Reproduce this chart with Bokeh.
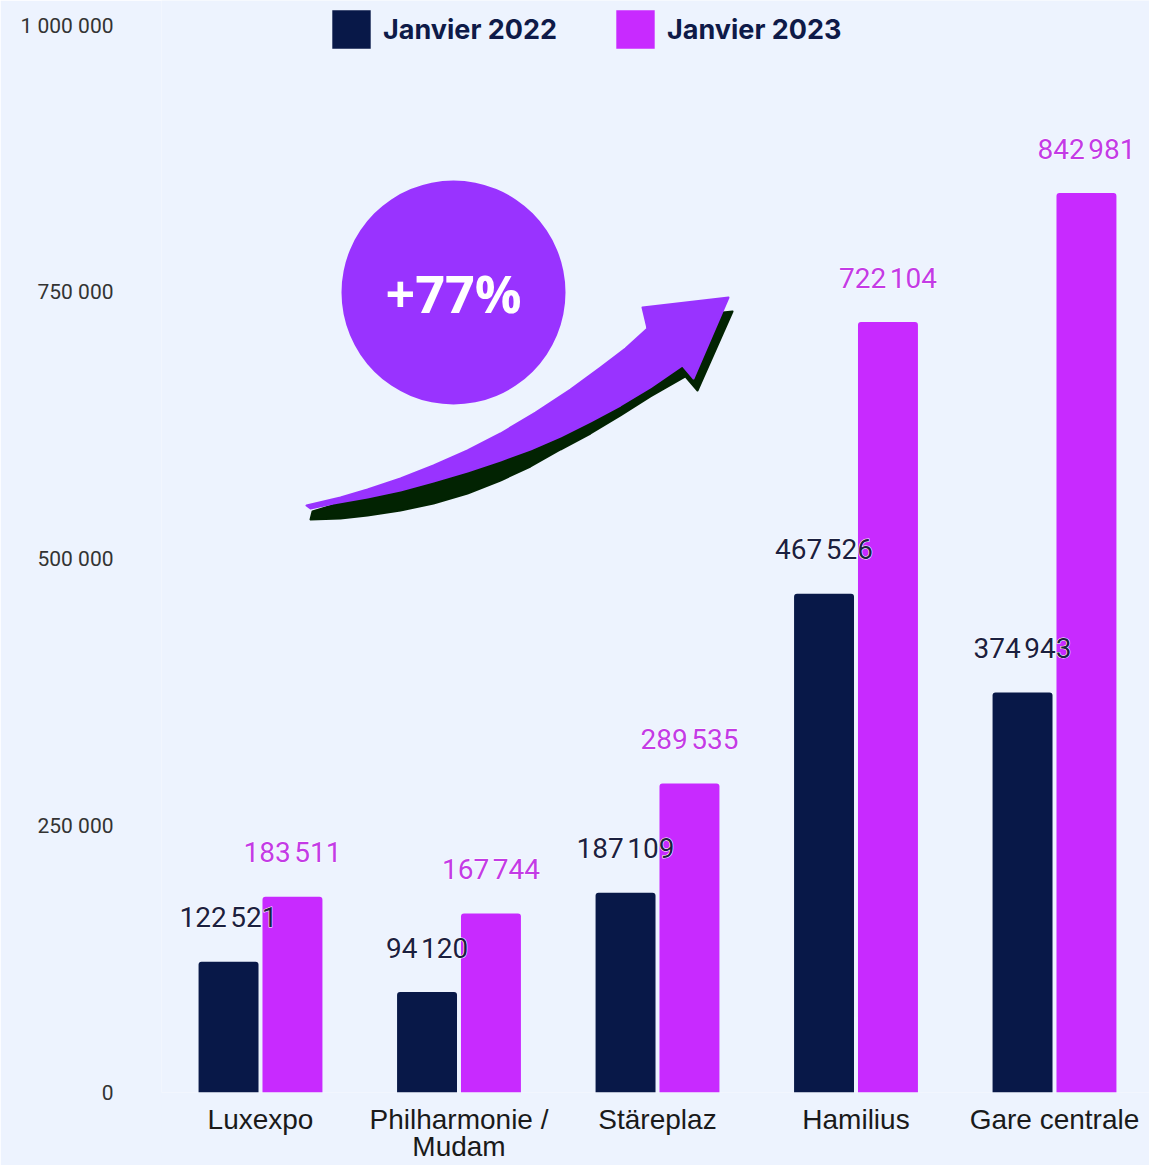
from bokeh.plotting import figure
from bokeh.models import (ColumnDataSource, Range1d, FixedTicker, Legend, LegendItem)
from bokeh.core.properties import value
from bokeh.embed import file_html
from bokeh.resources import INLINE

# ---- data ----
stations = ["Luxexpo", "Philharmonie /\nMudam", "Stäreplaz", "Hamilius", "Gare centrale"]
jan_2022 = [122521, 94120, 187109, 467526, 374943]
jan_2023 = [183511, 167744, 289535, 722104, 842981]
y_ticks = [0, 250000, 500000, 750000, 1000000]
y_tick_labels = ["0", "250 000", "500 000", "750 000", "1 000 000"]
growth_label = "+77%"

BG = "#EDF3FE"
NAVY = "#081848"
MAGENTA = "#C82AFF"
PURPLE = "#9933FF"
SHADOW = "#022302"

W, H = 1149, 1165
FRAME_LEFT, FRAME_BOTTOM = 161, 1092
PX_PER_CAT = 198.5
X0 = 260.0
PX_PER_VAL = 0.001067

p = figure(width=W, height=H, output_backend="svg", toolbar_location=None,
           x_range=Range1d((FRAME_LEFT - X0) / PX_PER_CAT, (W - X0) / PX_PER_CAT),
           y_range=Range1d(0, FRAME_BOTTOM / PX_PER_VAL),
           min_border_left=FRAME_LEFT, min_border_right=0, min_border_top=0,
           min_border_bottom=H - FRAME_BOTTOM)
p.background_fill_color = BG
p.border_fill_color = BG
p.outline_line_color = None
p.xgrid.visible = False
p.ygrid.visible = False

# helper converting reference-pixel decoration positions into data space
def dx(px):
    return (px - X0) / PX_PER_CAT
def dy(py):
    return (FRAME_BOTTOM - py) / PX_PER_VAL

idx = list(range(len(stations)))
off = 0.161
bw = 0.302
src = ColumnDataSource(dict(
    x1=[i - off for i in idx], x2=[i + off for i in idx],
    v1=jan_2022, v2=jan_2023,
    t1=[f"{v:,}".replace(",", "\u202f") for v in jan_2022],
    t2=[f"{v:,}".replace(",", "\u202f") for v in jan_2023],
))

r1 = p.vbar(x="x1", top="v1", width=bw, source=src, fill_color=NAVY, line_color=None,
            border_radius=(3, 3, 0, 0))
r2 = p.vbar(x="x2", top="v2", width=bw, source=src, fill_color=MAGENTA, line_color=None,
            border_radius=(3, 3, 0, 0))

lbl = dict(source=src, text_align="center", text_baseline="middle", y_offset=-44,
           text_font=value("Roboto"), text_font_size="28px")
# white halo layer
p.text(x="x1", y="v1", text="t1", text_color="white", text_outline_color="white", **lbl)
p.text(x="x2", y="v2", text="t2", text_color="white", text_outline_color="white", **lbl)
p.text(x="x1", y="v1", text="t1", text_color="#1B2040", **lbl)
p.text(x="x2", y="v2", text="t2", text_color="#C33BE6", **lbl)

# ---- decoration: arrow with shadow, circle badge ----
arrow_px = [306, 340, 367, 400, 433, 467, 500, 535, 570, 600, 625, 647,
            642, 728, 693, 682,
            650, 620, 590, 560, 530, 500, 467, 433, 400, 367, 333, 310]
arrow_py = [505, 497, 489, 478, 465, 450, 433, 412, 389, 367, 348, 328,
            307, 297, 378, 365,
            387, 405, 421, 436, 449, 460, 471, 481, 490, 497, 503, 508]
shadow_px = [310, 340, 367, 400, 433, 467, 500, 530, 560, 590, 620, 650, 685,
             697, 732, 646, 648, 620, 570, 500, 433, 367, 312]
shadow_py = [519, 518, 515, 510, 503, 493, 480, 466, 449, 433, 415, 396, 376,
             390, 311, 320, 332, 362, 397, 442, 470, 494, 511]
p.patch([dx(x) for x in shadow_px], [dy(y) for y in shadow_py],
        fill_color=SHADOW, line_color=SHADOW, line_width=2, line_join="round")
p.patch([dx(x) for x in arrow_px], [dy(y) for y in arrow_py],
        fill_color=PURPLE, line_color=PURPLE, line_width=2, line_join="round")

p.scatter([dx(453)], [dy(292)], size=224, marker="circle", fill_color=PURPLE, line_color=None)
p.text([dx(453)], [dy(292)], text=[growth_label], text_align="center", text_baseline="middle",
       text_font=value("Open Sans"), text_font_style="bold", text_font_size="52px",
       text_color="white")

# ---- axes ----
p.xaxis.ticker = FixedTicker(ticks=idx)
p.xaxis.major_label_overrides = {i: s for i, s in zip(idx, stations)}
p.xaxis.axis_line_color = None
p.xaxis.major_tick_line_color = None
p.xaxis.minor_tick_line_color = None
p.xaxis.major_tick_out = 0
p.xaxis.major_tick_in = 0
p.xaxis.major_label_standoff = 11
p.xaxis.major_label_text_font = "Liberation Sans"
p.xaxis.major_label_text_font_size = "28px"
p.xaxis.major_label_text_line_height = 0.9
p.xaxis.major_label_text_color = "#1a1a1a"

p.yaxis.ticker = FixedTicker(ticks=y_ticks)
p.yaxis.major_label_overrides = {t: l for t, l in zip(y_ticks, y_tick_labels)}
p.yaxis.axis_line_color = None
p.yaxis.major_tick_line_color = None
p.yaxis.minor_tick_line_color = None
p.yaxis.major_tick_out = 0
p.yaxis.major_tick_in = 0
p.yaxis.major_label_standoff = 48
p.yaxis.major_label_text_font = "Roboto"
p.yaxis.major_label_text_font_size = "21px"
p.yaxis.major_label_text_color = "#333333"

# ---- legend ----
legend = Legend(items=[LegendItem(label="Janvier 2022", renderers=[r1]),
                       LegendItem(label="Janvier 2023", renderers=[r2])],
                orientation="horizontal", location=(327 - FRAME_LEFT, FRAME_BOTTOM - 53),
                glyph_width=48, glyph_height=48, label_standoff=8, spacing=54,
                padding=0, margin=0, border_line_color=None, background_fill_alpha=0,
                label_text_font="Inter", label_text_font_style="bold",
                label_text_font_size="27px", label_text_color="#0E1A48")
p.add_layout(legend)

open("out.html", "w").write(file_html(p, INLINE))
